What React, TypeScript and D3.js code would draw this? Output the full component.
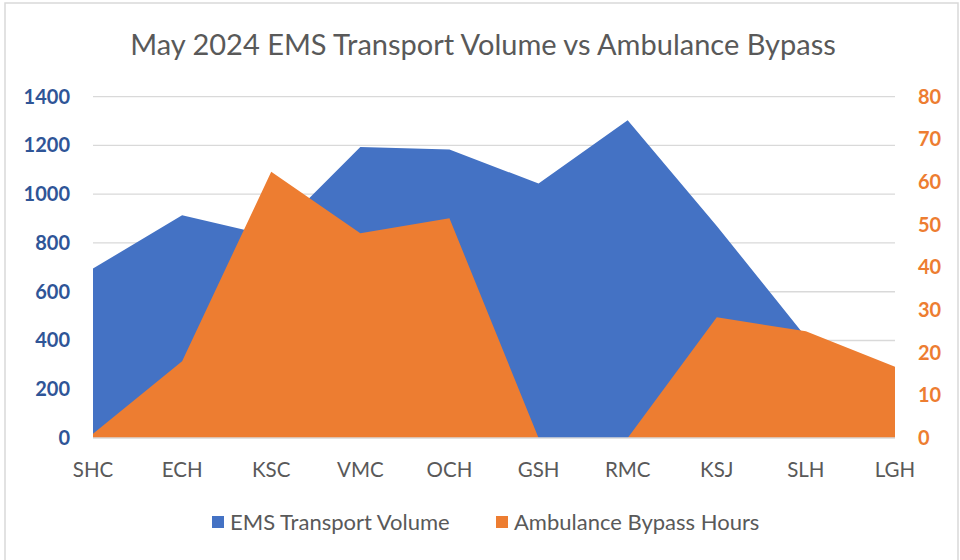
import React, { useEffect, useRef } from 'react';
import * as d3 from 'd3';

const categories = ['SHC', 'ECH', 'KSC', 'VMC', 'OCH', 'GSH', 'RMC', 'KSJ', 'SLH', 'LGH'];
const transportVolume = [695, 914, 828, 1194, 1183, 1044, 1303, 870, 414, 170];
const bypassHours = [1, 18, 62.4, 48, 51.5, 0, 0, 28.3, 25, 16.7];
const leftTicks = [0, 200, 400, 600, 800, 1000, 1200, 1400];
const rightTicks = [0, 10, 20, 30, 40, 50, 60, 70, 80];

const BLUE = '#4472C4';
const ORANGE = '#ED7D31';
const FONT = 'Lato, "Open Sans", sans-serif';

const App = () => {
	const ref = useRef<SVGSVGElement>(null);

	useEffect(() => {
		const svg = d3.select(ref.current);
		svg.selectAll('*').remove();

		const left = 93, right = 895, top = 96.7, bottom = 438;

		const x = d3.scalePoint<string>().domain(categories).range([ left, right ]);
		const yL = d3.scaleLinear().domain([ 0, 1400 ]).range([ bottom, top ]);
		const yR = d3.scaleLinear().domain([ 0, 80 ]).range([ bottom, top ]);

		// chart border
		svg.append('rect')
			.attr('x', 5).attr('y', 3).attr('width', 953).attr('height', 570)
			.attr('fill', '#fff').attr('stroke', '#d9d9d9').attr('stroke-width', 1.5);

		// gridlines
		svg.append('g').selectAll('line').data(leftTicks.slice(1)).join('line')
			.attr('x1', left).attr('x2', right)
			.attr('y1', (d) => yL(d)).attr('y2', (d) => yL(d))
			.attr('stroke', '#d9d9d9').attr('stroke-width', 1.3);

		const areaBlue = d3.area<number>()
			.x((_, i) => x(categories[i]) as number)
			.y0(bottom).y1((d) => yL(d));
		const areaOrange = d3.area<number>()
			.x((_, i) => x(categories[i]) as number)
			.y0(bottom).y1((d) => yR(d));

		svg.append('path').datum(transportVolume).attr('d', areaBlue).attr('fill', BLUE);
		svg.append('path').datum(bypassHours).attr('d', areaOrange).attr('fill', ORANGE);

		// baseline
		svg.append('line').attr('x1', left).attr('x2', right).attr('y1', bottom).attr('y2', bottom)
			.attr('stroke', '#d9d9d9').attr('stroke-width', 1.3);

		// left axis
		svg.append('g').selectAll('text').data(leftTicks).join('text')
			.attr('x', 70).attr('y', (d) => yL(d)).attr('dy', '0.35em')
			.attr('text-anchor', 'end').attr('font-family', FONT).attr('font-weight', 'bold')
			.attr('font-size', 20).attr('fill', '#2F5597')
			.text((d) => d);

		// right axis
		svg.append('g').selectAll('text').data(rightTicks).join('text')
			.attr('x', 918).attr('y', (d) => yR(d)).attr('dy', '0.35em')
			.attr('text-anchor', 'start').attr('font-family', FONT).attr('font-weight', 'bold')
			.attr('font-size', 20).attr('fill', ORANGE)
			.text((d) => d);

		// x labels
		svg.append('g').selectAll('text').data(categories).join('text')
			.attr('x', (d) => x(d) as number).attr('y', 470).attr('dy', '0.35em')
			.attr('text-anchor', 'middle').attr('font-family', FONT)
			.attr('font-size', 20.5).attr('fill', '#595959')
			.text((d) => d);

		// title
		svg.append('text')
			.attr('x', 483).attr('y', 45).attr('dy', '0.35em')
			.attr('text-anchor', 'middle').attr('font-family', FONT)
			.attr('font-size', 29).attr('fill', '#595959')
			.text('May 2024 EMS Transport Volume vs Ambulance Bypass');

		// legend
		const legend = [
			{ label: 'EMS Transport Volume', color: BLUE, x: 212 },
			{ label: 'Ambulance Bypass Hours', color: ORANGE, x: 496 }
		];
		const lg = svg.append('g').selectAll('g').data(legend).join('g')
			.attr('transform', (d) => `translate(${d.x},522)`);
		lg.append('rect').attr('x', 0).attr('y', -6).attr('width', 12).attr('height', 12)
			.attr('fill', (d) => d.color);
		lg.append('text').attr('x', 18).attr('y', 0).attr('dy', '0.35em')
			.attr('font-family', FONT).attr('font-size', 22).attr('fill', '#595959')
			.text((d) => d.label);
	}, []);

	return (
		<div style={{ position: 'fixed', left: 0, top: 0, width: 960, height: 560, background: '#fff' }}>
			<svg ref={ref} width={960} height={560} />
		</div>
	);
};

export default App;
